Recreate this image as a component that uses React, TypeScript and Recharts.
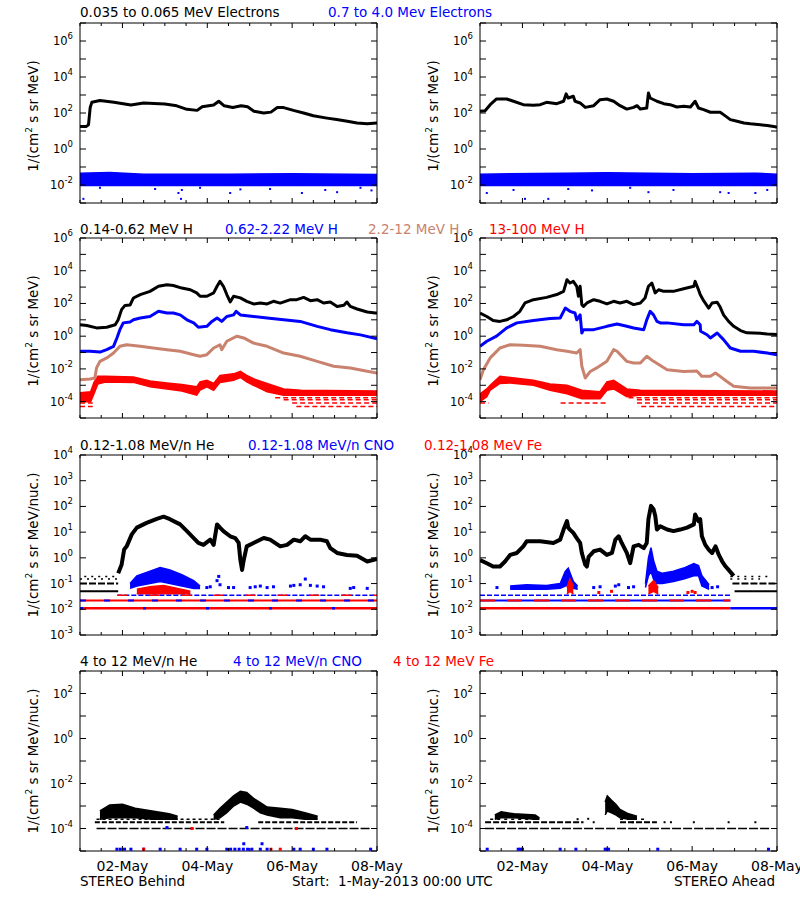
import React from 'react';
import { ComposedChart, Line, Area, Scatter, XAxis, YAxis } from 'recharts';

type Pt = [number, number];
type Bd = [number, number, number];

const FONT = '"DejaVu Sans", Verdana, sans-serif';
const BLACK = '#000000';
const BLUE = '#0000ff';
const RED = '#ff0000';
const BROWN = '#c8826e';

// time axis: days since 1-May-2013 00:00 UTC
const DAY_TICKS = [0, 0.5, 1, 1.5, 2, 2.5, 3, 3.5, 4, 4.5, 5, 5.5, 6, 6.5, 7];
const DATE_TICK_DAYS = [1, 3, 5, 7];
const DATE_LABELS = ['02-May', '04-May', '06-May', '08-May'];

const EXP_ROW1 = [-3, -2, -1, 0, 1, 2, 3, 4, 5, 6, 7];
const LAB_ROW1 = [-2, 0, 2, 4, 6];
const EXP_ROW2 = [-5, -4, -3, -2, -1, 0, 1, 2, 3, 4, 5, 6];
const LAB_ROW2 = [-4, -2, 0, 2, 4, 6];
const EXP_ROW3 = [-3, -2, -1, 0, 1, 2, 3, 4];
const LAB_ROW3 = [-3, -2, -1, 0, 1, 2, 3, 4];
const EXP_ROW4 = [-5, -4, -3, -2, -1, 0, 1, 2, 3];
const LAB_ROW4 = [-4, -2, 0, 2];

// ---------- Row 1: electrons ----------
const B_E_LOW: Pt[] = [[0,18],[0.15,18],[0.2,22],[0.24,200],[0.28,400],[0.47,500],[0.8,400],[1.2,280],[1.5,355],[2.0,316],[2.28,250],[2.52,160],[2.76,140],[2.88,220],[3.15,280],[3.27,450],[3.4,250],[3.6,200],[3.8,250],[3.95,220],[4.1,125],[4.33,100],[4.5,112],[4.65,200],[4.8,200],[5.03,140],[5.27,100],[5.5,70],[5.82,52],[6.05,43],[6.3,35],[6.53,28],[6.77,25],[7,28]];
const B_E_HIGH_BAND: Bd[] = [[0,0.0095,0.045],[0.7,0.0095,0.05],[1.5,0.0095,0.04],[3.5,0.0095,0.04],[5,0.0095,0.042],[7,0.0095,0.038]];
const B_E_HIGH_DOTS: Pt[] = [[0.08,0.0017],[2.32,0.0036],[2.4,0.0053],[3.54,0.0036],[3.78,0.0057],[5.23,0.0036],[6.06,0.004],[5.78,0.0053],[6.87,0.005],[2.38,0.0017],[0.47,0.007],[1.77,0.006],[2.83,0.007],[4.48,0.006],[6.61,0.007]];
const A_E_LOW: Pt[] = [[0,123],[0.12,135],[0.24,290],[0.39,600],[0.63,600],[0.79,450],[1.02,290],[1.26,270],[1.42,290],[1.57,390],[1.81,330],[1.97,450],[2.03,1150],[2.08,680],[2.2,850],[2.24,450],[2.36,360],[2.48,205],[2.68,255],[2.83,550],[2.99,600],[3.15,450],[3.3,255],[3.46,165],[3.62,205],[3.7,255],[3.78,165],[3.93,190],[3.97,1300],[4.01,680],[4.17,450],[4.33,330],[4.48,290],[4.64,215],[4.8,235],[4.96,215],[5.07,450],[5.15,190],[5.27,155],[5.43,110],[5.66,110],[5.74,81],[5.9,43],[6.06,35],[6.22,28],[6.37,25],[6.61,22],[6.77,20],[6.96,17],[7,16]];
const A_E_HIGH_BAND: Bd[] = [[0,0.0095,0.04],[2,0.0095,0.045],[3,0.0095,0.048],[5,0.0095,0.042],[6.5,0.0095,0.045],[7,0.0095,0.04]];
const A_E_HIGH_DOTS: Pt[] = [[0.16,0.0036],[1.06,0.0017],[1.61,0.0017],[0.79,0.0053],[2.08,0.006],[2.64,0.005],[3.97,0.004],[4.56,0.0053],[5.66,0.004],[5.86,0.0036],[6.49,0.0036],[6.77,0.0053],[3.54,0.007]];

// ---------- Row 2: protons ----------
const B_H1: Pt[] = [[0,5],[0.16,4.5],[0.39,3.2],[0.63,3.5],[0.83,5],[0.9,10],[0.98,42],[1.06,76],[1.18,80],[1.22,135],[1.26,215],[1.42,350],[1.65,550],[1.85,1120],[2.05,1400],[2.2,1250],[2.4,870],[2.6,690],[2.75,440],[2.83,275],[2.99,275],[3.15,440],[3.23,1120],[3.3,2240],[3.38,1120],[3.46,350],[3.54,123],[3.62,275],[3.78,220],[3.93,135],[4.09,93],[4.25,105],[4.41,93],[4.56,135],[4.72,105],[4.96,170],[5.11,170],[5.27,235],[5.43,148],[5.59,170],[5.74,107],[5.9,123],[6.06,66],[6.22,77],[6.29,123],[6.37,66],[6.53,46],[6.77,30],[6.96,26],[7,26]];
const B_H2: Pt[] = [[0,0.12],[0.24,0.12],[0.47,0.107],[0.63,0.15],[0.79,0.24],[0.87,0.78],[0.94,2.5],[1.02,6.5],[1.18,7.4],[1.26,10],[1.42,13],[1.65,16],[1.85,33],[2.05,26],[2.2,26],[2.36,20],[2.52,10],[2.68,6.5],[2.79,3.5],[2.99,4],[3.11,8],[3.23,13],[3.34,8],[3.46,16],[3.62,20],[3.68,33],[3.78,20],[4.09,16],[4.41,13],[4.8,10],[5.19,8],[5.59,4],[5.9,2.5],[6.29,1.6],[6.61,1.2],[7,0.7]];
const B_H3: Pt[] = [[0,0.0022],[0.24,0.0024],[0.35,0.0028],[0.39,0.0115],[0.47,0.029],[0.63,0.047],[0.79,0.093],[0.94,0.24],[1.1,0.3],[1.42,0.24],[1.73,0.19],[2.05,0.15],[2.36,0.12],[2.68,0.074],[2.83,0.059],[2.99,0.074],[3.15,0.19],[3.3,0.3],[3.34,0.15],[3.46,0.49],[3.7,1.0],[3.86,0.78],[4.09,0.38],[4.41,0.24],[4.8,0.093],[5.19,0.059],[5.59,0.029],[5.98,0.0145],[6.37,0.0115],[6.77,0.0071],[7,0.0056]];
const B_H4_BAND: Bd[] = [[0,1e-4,3.5e-4],[0.25,1e-4,4e-4],[0.33,3e-4,1.5e-3],[0.42,1.2e-3,3.5e-3],[0.6,1.6e-3,3.5e-3],[1.26,1.5e-3,3.2e-3],[1.65,8e-4,1.8e-3],[2.05,6e-4,1.4e-3],[2.4,4.5e-4,1.1e-3],[2.75,2.5e-4,8e-4],[2.83,5e-4,1.6e-3],[2.99,8e-4,2e-3],[3.15,5e-4,1.3e-3],[3.3,1.5e-3,4e-3],[3.62,2e-3,5e-3],[3.78,3e-3,7e-3],[3.93,1.6e-3,4e-3],[4.09,1e-3,2.5e-3],[4.41,4e-4,1.3e-3],[4.8,2.5e-4,6e-4],[5.2,2.5e-4,5e-4],[7,2.5e-4,4.5e-4]];
const B_H4_FLOORS: Bd[] = [[4.6,7,1.7e-4],[4.8,7,1.3e-4],[5.0,7,8.3e-5],[5.1,7,5.1e-5],[0,0.3,8.3e-5],[0,0.3,5.1e-5]];
const A_H1: Pt[] = [[0,26],[0.16,16],[0.31,9],[0.47,8],[0.63,10],[0.79,16],[0.94,33],[1.06,107],[1.26,170],[1.57,235],[1.81,350],[1.97,550],[2.05,2800],[2.12,1780],[2.2,2240],[2.28,1120],[2.32,275],[2.36,1120],[2.4,85],[2.44,66],[2.52,107],[2.68,170],[2.83,135],[2.99,93],[3.15,135],[3.3,107],[3.46,135],[3.62,85],[3.78,107],[3.89,215],[3.97,1120],[4.05,1780],[4.13,440],[4.21,690],[4.33,550],[4.56,550],[4.8,800],[5.04,1120],[5.07,2240],[5.15,690],[5.19,350],[5.27,148],[5.39,52],[5.47,107],[5.59,120],[5.66,60],[5.74,20],[5.86,8],[5.98,4],[6.14,2.2],[6.29,1.6],[6.61,1.5],[6.77,1.35],[7,1.25]];
const A_H2: Pt[] = [[0,0.24],[0.16,0.49],[0.39,1.0],[0.63,3.2],[0.87,6.5],[1.26,9],[1.65,12],[1.89,13],[2.01,52],[2.12,33],[2.24,26],[2.28,10],[2.36,20],[2.4,1.55],[2.44,2.5],[2.68,2.5],[2.99,4],[3.23,5.5],[3.46,4],[3.62,3.2],[3.86,2.5],[3.93,10],[4.01,33],[4.09,20],[4.17,8],[4.25,6.5],[4.41,6.5],[4.8,5],[5.04,5],[5.11,8],[5.19,5],[5.2,2],[5.35,1.23],[5.43,0.78],[5.59,1.55],[5.74,0.62],[5.9,0.19],[6.14,0.12],[6.45,0.12],[6.77,0.093],[7,0.074]];
const A_H3: Pt[] = [[0,0.0022],[0.08,0.009],[0.24,0.047],[0.47,0.19],[0.71,0.3],[1.02,0.28],[1.42,0.24],[1.81,0.15],[2.05,0.12],[2.28,0.093],[2.36,0.15],[2.4,0.0145],[2.48,0.0028],[2.6,0.007],[2.75,0.0115],[2.99,0.029],[3.15,0.15],[3.23,0.12],[3.46,0.029],[3.62,0.023],[3.78,0.023],[3.93,0.059],[4.09,0.029],[4.41,0.009],[4.8,0.007],[5.11,0.0075],[5.23,0.0035],[5.43,0.0035],[5.55,0.0056],[5.66,0.0035],[5.82,0.0017],[5.98,0.00087],[6.37,0.00068],[7,0.00068]];
const A_H4_BAND: Bd[] = [[0,1e-4,3e-4],[0.16,2e-4,6e-4],[0.24,5e-4,1e-3],[0.47,1.3e-3,3.5e-3],[0.71,1.4e-3,3e-3],[1.26,1e-3,2e-3],[1.65,5e-4,1.2e-3],[2.05,3e-4,1e-3],[2.4,1.5e-4,5e-4],[2.83,1.5e-4,4e-4],[2.99,5e-4,1.6e-3],[3.15,6e-4,2e-3],[3.46,2e-4,6e-4],[3.78,2.5e-4,5e-4],[7,2.5e-4,4.5e-4]];
const A_H4_FLOORS: Bd[] = [[3.5,7,1.7e-4],[3.7,7,1.3e-4],[3.7,7,8.3e-5],[3.8,7,5.1e-5],[1.9,3.0,8.3e-5],[0,0.2,8.3e-5]];

// ---------- Row 3: low-energy heavy ions ----------
const B_HE_L: Pt[] = [[0.9,0.25],[0.98,0.54],[1.04,2.1],[1.1,2.8],[1.22,8.2],[1.34,15],[1.57,23],[1.81,33],[1.97,40],[2.12,32],[2.36,20],[2.52,11],[2.68,5.9],[2.79,3.8],[2.91,3.2],[3.07,5.1],[3.15,3.2],[3.23,20],[3.3,15],[3.38,11],[3.54,6.9],[3.66,5.9],[3.74,3.8],[3.78,0.83],[3.82,0.34],[3.86,0.83],[3.93,2.8],[4.09,3.8],[4.33,5.9],[4.48,5.1],[4.72,2.8],[4.88,3.2],[5.04,5.1],[5.19,4.4],[5.31,6.9],[5.43,5.1],[5.66,5.1],[5.82,4.4],[5.9,2.4],[6.06,1.55],[6.29,1.3],[6.53,1.2],[6.77,0.72],[7,0.9]];
const B_HE_FLOOR_A: Bd[] = [[0,0.9,0.1]];
const B_HE_FLOOR_B: Bd[] = [[0,0.9,0.05]];
const B_HE_FLOOR_C: Bd[] = [[0,0.9,0.15],[0.1,0.85,0.19]];
const B_CNO_BAND: Bd[] = [[1.18,0.065,0.1],[1.34,0.08,0.2],[1.65,0.1,0.3],[1.89,0.12,0.42],[2.12,0.1,0.34],[2.4,0.08,0.22],[2.68,0.065,0.13],[2.83,0.065,0.08]];
const B_CNO_DOTS: Pt[] = [[2.99,0.07],[3.07,0.075],[3.23,0.13],[3.27,0.19],[3.3,0.09],[3.5,0.07],[3.62,0.07],[4.01,0.07],[4.13,0.075],[4.25,0.08],[4.41,0.07],[4.56,0.075],[4.96,0.08],[5.04,0.085],[5.19,0.09],[5.31,0.15],[5.43,0.085],[5.59,0.08],[5.74,0.075],[6.37,0.065],[6.45,0.07],[6.77,0.065]];
const B_FE_BAND: Bd[] = [[1.34,0.04,0.06],[1.65,0.04,0.075],[1.97,0.04,0.085],[2.3,0.04,0.065],[2.6,0.04,0.05]];
const B_CNO_FLOOR_HI: Bd[] = [[0.88,7,0.035]];
const B_CNO_FLOOR_MID: Bd[] = [[0,7,0.022]];
const B_FE_FLOOR_LO: Bd[] = [[0,7,0.011]];
const A_HE_L: Pt[] = [[0,0.83],[0.16,0.62],[0.31,0.46],[0.47,0.46],[0.59,0.72],[0.71,1.3],[0.87,1.55],[1.02,2.8],[1.1,4.4],[1.42,4.4],[1.73,3.8],[1.89,5.1],[1.97,12.6],[2.05,27],[2.08,15],[2.12,12.6],[2.2,9.3],[2.28,5.9],[2.36,3.8],[2.4,1.55],[2.48,0.54],[2.52,0.46],[2.56,1.1],[2.68,1.8],[2.83,2.1],[2.99,1.3],[3.11,1.55],[3.19,5.1],[3.27,6.9],[3.34,3.8],[3.46,1.55],[3.54,0.62],[3.62,2.8],[3.74,3.2],[3.86,2.4],[3.93,3.8],[3.97,32],[4.03,105],[4.09,78],[4.13,43],[4.17,12.6],[4.25,17],[4.41,12.6],[4.56,11],[4.72,12.6],[4.88,15],[5.04,20],[5.07,49],[5.15,27],[5.19,32],[5.23,6.9],[5.31,3.2],[5.39,2.1],[5.47,1.55],[5.55,2.8],[5.63,1.3],[5.71,0.72],[5.79,0.46],[5.86,0.34],[5.98,0.2]];
const A_HE_FLOOR_A: Bd[] = [[5.95,7,0.1]];
const A_HE_FLOOR_B: Bd[] = [[6.0,7,0.05]];
const A_HE_FLOOR_C: Bd[] = [[5.9,6.6,0.15],[5.9,6.8,0.19]];
const A_CNO_BAND1: Bd[] = [[0.71,0.06,0.08],[1.1,0.06,0.09],[1.57,0.06,0.085],[1.89,0.065,0.1],[2.01,0.08,0.3],[2.08,0.09,0.4],[2.2,0.065,0.12],[2.3,0.06,0.08]];
const A_CNO_BAND2: Bd[] = [[3.9,0.07,0.1],[3.97,0.2,1.0],[4.03,0.3,2.5],[4.09,0.15,0.8],[4.17,0.1,0.3],[4.3,0.1,0.25],[4.56,0.12,0.3],[4.8,0.15,0.4],[5.04,0.2,0.6],[5.15,0.2,0.5],[5.23,0.08,0.2],[5.4,0.06,0.09]];
const A_CNO_DOTS: Pt[] = [[2.68,0.07],[2.83,0.075],[3.19,0.08],[3.27,0.09],[3.5,0.07],[3.62,0.075],[5.47,0.07],[5.6,0.075],[0.4,0.07]];
const A_FE_BAND1: Bd[] = [[2.05,0.04,0.07],[2.12,0.05,0.15],[2.2,0.04,0.08]];
const A_FE_BAND2: Bd[] = [[3.97,0.04,0.08],[4.09,0.05,0.13],[4.2,0.04,0.07]];
const A_FE_DOTS: Pt[] = [[4.9,0.045],[5.0,0.05],[5.07,0.045],[3.1,0.05],[2.8,0.045]];
const A_CNO_FLOOR_HI: Bd[] = [[0,5.9,0.035]];
const A_CNO_FLOOR_MID: Bd[] = [[0,5.9,0.022]];
const A_FE_FLOOR_LO: Bd[] = [[0,5.9,0.011]];
const A_CNO_FLOOR_LO: Bd[] = [[5.9,7,0.011]];

// ---------- Row 4: high-energy heavy ions ----------
const B_HE4_BAND1: Bd[] = [[0.47,2.6e-4,6e-4],[0.7,3e-4,1.1e-3],[1.0,3e-4,1.2e-3],[1.3,3e-4,8e-4],[1.7,2.6e-4,6e-4],[2.1,2.6e-4,4.5e-4],[2.3,2.6e-4,3.5e-4]];
const B_HE4_BAND2: Bd[] = [[3.15,2.6e-4,4e-4],[3.3,3e-4,8e-4],[3.46,5e-4,1.5e-3],[3.62,1e-3,2.8e-3],[3.78,1.5e-3,4.5e-3],[3.93,1.2e-3,4e-3],[4.09,8e-4,2.2e-3],[4.25,5e-4,1.4e-3],[4.41,4e-4,9e-4],[4.72,3e-4,8e-4],[5.0,3e-4,7e-4],[5.3,2.6e-4,5e-4],[5.6,2.6e-4,3.5e-4]];
const B_HE4_FLOOR_A: Bd[] = [[0.35,3.4,1.9e-4],[4.2,6.53,1.9e-4]];
const B_HE4_FLOOR_B: Bd[] = [[0.39,3.3,2.6e-4]];
const B_HE4_FLOOR_C: Bd[] = [[0.39,6.85,1e-4]];
const B_CNO4_DOTS: Pt[] = [[0.87,1.2e-5],[0.95,1.2e-5],[1.05,1.2e-5],[1.2,1.2e-5],[1.5,1.2e-5],[1.89,1.2e-5],[2.36,1.2e-5],[2.75,1.2e-5],[2.99,1.2e-5],[3.46,1.2e-5],[3.55,1.2e-5],[3.65,1.2e-5],[3.75,1.2e-5],[3.85,1.2e-5],[3.95,1.2e-5],[4.05,1.2e-5],[4.25,1.2e-5],[4.41,1.2e-5],[5.04,1.2e-5],[5.19,1.2e-5],[5.5,1.2e-5],[5.82,1.2e-5],[6.85,1.2e-5],[3.86,2.1e-5],[4.29,2.1e-5],[2.05,1.1e-4],[3.93,1.1e-4]];
const B_FE4_DOTS: Pt[] = [[1.5,1.2e-5],[4.5,1.2e-5],[4.72,1.2e-5],[2.64,1e-4],[5.1,1e-4]];
const A_HE4_BAND1: Bd[] = [[0.35,2.6e-4,4e-4],[0.5,3e-4,5.5e-4],[0.8,3e-4,4.5e-4],[1.3,2.6e-4,4e-4],[1.4,2.6e-4,3e-4]];
const A_HE4_BAND2: Bd[] = [[2.95,4e-4,1.5e-3],[3.0,6e-4,2.8e-3],[3.1,5e-4,1.8e-3],[3.2,4e-4,1.2e-3],[3.3,3e-4,7e-4],[3.5,2.6e-4,4.5e-4],[3.7,2.6e-4,3.5e-4]];
const A_HE4_FLOOR_A: Bd[] = [[0.12,2.44,1.9e-4],[3.3,4.17,1.9e-4]];
const A_HE4_FLOOR_B: Bd[] = [[0.24,1.34,2.6e-4],[3.3,3.9,2.6e-4]];
const A_HE4_FLOOR_C: Bd[] = [[0.12,6.85,1e-4]];
const A_HE4_DOTS: Pt[] = [[2.68,1.9e-4],[3.6,1.9e-4],[4.35,1.9e-4],[4.5,1.9e-4],[5.04,1.9e-4],[5.86,1.9e-4],[6.49,1.9e-4],[2.3,2.6e-4],[2.55,2.7e-4]];
const A_CNO4_DOTS: Pt[] = [[0.17,1.2e-5],[0.9,1.2e-5],[0.95,1.2e-5],[1.0,1.2e-5],[1.89,1.2e-5],[2.26,1.2e-5],[2.95,1.2e-5],[2.99,1.2e-5],[3.03,1.2e-5],[4.19,1.2e-5],[6.8,1.2e-5]];

// ---------- text ----------
const TITLES_ROW1 = ['0.035 to 0.065 MeV Electrons', '0.7 to 4.0 Mev Electrons'];
const TITLES_ROW2 = ['0.14-0.62 MeV H', '0.62-2.22 MeV H', '2.2-12 MeV H', '13-100 MeV H'];
const TITLES_ROW3 = ['0.12-1.08 MeV/n He', '0.12-1.08 MeV/n CNO', '0.12-1.08 MeV Fe'];
const TITLES_ROW4 = ['4 to 12 MeV/n He', '4 to 12 MeV/n CNO', '4 to 12 MeV Fe'];
const FOOTER = ['STEREO Behind', 'Start:  1-May-2013 00:00 UTC', 'STEREO Ahead'];

// ---------- geometry ----------
const LX = 80;
const RX = 480;
const PW = 297;
const PH = 180;
const ROW_Y = [23, 238, 455, 671];
const EXTRA_R = 40;

const pts = (a: Pt[]) => a.map(([t, v]) => ({ t, v }));
const bnd = (a: Bd[]) => a.map(([t, lo, hi]) => ({ t, v: [lo, hi] }));

const ln = (d: Pt[], color: string, w = 2.5) => (
  <Line data={pts(d)} dataKey="v" type="linear" stroke={color} strokeWidth={w} strokeLinejoin="round" dot={false} activeDot={false} isAnimationActive={false} />
);
const bd = (d: Bd[], color: string) => (
  <Area data={bnd(d)} dataKey="v" type="linear" stroke={color} strokeWidth={1.5} fill={color} fillOpacity={1} dot={false} activeDot={false} isAnimationActive={false} />
);
const sg = (d: Bd[], color: string, w: number, dash?: string) =>
  d.map(([t0, t1, v], i) => (
    <Line key={`${color}${v}${i}${dash}`} data={[{ t: t0, v }, { t: t1, v }]} dataKey="v" type="linear" stroke={color} strokeWidth={w} strokeDasharray={dash} dot={false} activeDot={false} isAnimationActive={false} />
  ));
const dt = (d: Pt[], color: string, s = 2) => (
  <Scatter data={pts(d)} dataKey="v" fill={color} isAnimationActive={false}
    shape={(p: any) => <rect x={p.cx - s / 2} y={p.cy - s / 2} width={s} height={s} fill={color} />} />
);

const BottomTick = (p: any) => {
  const i = DATE_TICK_DAYS.indexOf(p.payload.value);
  const major = i >= 0;
  return (
    <g>
      <line x1={p.x} y1={p.y} x2={p.x} y2={p.y - (major ? 5 : 3)} stroke="#000" />
      {p.dates && major ? (
        <text x={p.x} y={p.y + 20} textAnchor="middle" fontFamily={FONT} fontSize={14} fill="#000">{DATE_LABELS[i]}</text>
      ) : null}
    </g>
  );
};
const TopTick = (p: any) => {
  const major = DATE_TICK_DAYS.indexOf(p.payload.value) >= 0;
  return <line x1={p.x} y1={p.y} x2={p.x} y2={p.y + (major ? 5 : 3)} stroke="#000" />;
};
const LeftTick = (p: any) => {
  const e = Math.round(Math.log10(p.payload.value));
  return (
    <g>
      <line x1={p.x} y1={p.y} x2={p.x + 6} y2={p.y} stroke="#000" />
      {p.labels.indexOf(e) >= 0 ? (
        <text x={p.x - 7} y={p.y + 4} textAnchor="end" fontFamily={FONT} fontSize={11.5} fill="#000">
          10<tspan dy={-6} fontSize={8.5}>{e}</tspan>
        </text>
      ) : null}
    </g>
  );
};
const RightTick = (p: any) => <line x1={p.x} y1={p.y} x2={p.x - 6} y2={p.y} stroke="#000" />;

const Panel = ({ x, y, exps, labels, dates, children }: any) => {
  const ticks = exps.map((e: number) => Math.pow(10, e));
  const domain = [ticks[0], ticks[ticks.length - 1]];
  return (
    <div style={{ position: 'absolute', left: x - 70, top: y - 10 }}>
      <ComposedChart width={PW + 80 + EXTRA_R} height={PH + 40} margin={{ top: 0, right: EXTRA_R, bottom: 0, left: 0 }}>
        <XAxis dataKey="t" type="number" domain={[0, 7]} ticks={DAY_TICKS} interval={0} allowDataOverflow height={30}
          tickSize={0} tickMargin={0} tickLine={false} axisLine={{ stroke: '#000' }}
          tick={(p: any) => <BottomTick {...p} dates={dates} />} />
        <XAxis xAxisId="top" orientation="top" dataKey="t" type="number" domain={[0, 7]} ticks={DAY_TICKS} interval={0} allowDataOverflow height={10}
          tickSize={0} tickMargin={0} tickLine={false} axisLine={{ stroke: '#000' }}
          tick={(p: any) => <TopTick {...p} />} />
        <YAxis type="number" scale="log" domain={domain} ticks={ticks} interval={0} allowDataOverflow width={70}
          tickSize={0} tickMargin={0} tickLine={false} axisLine={{ stroke: '#000' }}
          tick={(p: any) => <LeftTick {...p} labels={labels} />} />
        <YAxis yAxisId="r" orientation="right" type="number" scale="log" domain={domain} ticks={ticks} interval={0} allowDataOverflow width={10}
          tickSize={0} tickMargin={0} tickLine={false} axisLine={{ stroke: '#000' }}
          tick={(p: any) => <RightTick {...p} />} />
        {children}
      </ComposedChart>
    </div>
  );
};

const T = ({ x, y, c = '#000', anchor = 'start', children }: any) => (
  <text x={x} y={y} fill={c} textAnchor={anchor} fontFamily={FONT} fontSize={13.5} style={{ whiteSpace: 'pre' }}>{children}</text>
);

const YTitle = ({ x, cy, nuc }: any) => (
  <text transform={`translate(${x},${cy}) rotate(-90)`} textAnchor="middle" fontFamily={FONT} fontSize={13.5} fill="#000">
    1/(cm<tspan dy={-6} fontSize={9}>2</tspan><tspan dy={6}>{nuc ? ' s sr MeV/nuc.)' : ' s sr MeV)'}</tspan>
  </text>
);

export default function App() {
  return (
    <div style={{ position: 'absolute', left: 0, top: 0, width: 800, height: 900, background: '#fff', overflow: 'hidden' }}>
      {/* Row 1 */}
      <Panel x={LX} y={ROW_Y[0]} exps={EXP_ROW1} labels={LAB_ROW1}>
        {bd(B_E_HIGH_BAND, BLUE)}
        {dt(B_E_HIGH_DOTS, BLUE)}
        {ln(B_E_LOW, BLACK, 3)}
      </Panel>
      <Panel x={RX} y={ROW_Y[0]} exps={EXP_ROW1} labels={LAB_ROW1}>
        {bd(A_E_HIGH_BAND, BLUE)}
        {dt(A_E_HIGH_DOTS, BLUE)}
        {ln(A_E_LOW, BLACK, 3)}
      </Panel>
      {/* Row 2 */}
      <Panel x={LX} y={ROW_Y[1]} exps={EXP_ROW2} labels={LAB_ROW2}>
        {sg(B_H4_FLOORS, RED, 1.5, '5 3')}
        {bd(B_H4_BAND, RED)}
        {ln(B_H3, BROWN, 3)}
        {ln(B_H2, BLUE, 3)}
        {ln(B_H1, BLACK, 3)}
      </Panel>
      <Panel x={RX} y={ROW_Y[1]} exps={EXP_ROW2} labels={LAB_ROW2}>
        {sg(A_H4_FLOORS, RED, 1.5, '5 3')}
        {bd(A_H4_BAND, RED)}
        {ln(A_H3, BROWN, 3)}
        {ln(A_H2, BLUE, 3)}
        {ln(A_H1, BLACK, 3)}
      </Panel>
      {/* Row 3 */}
      <Panel x={LX} y={ROW_Y[2]} exps={EXP_ROW3} labels={LAB_ROW3}>
        {sg(B_FE_FLOOR_LO, RED, 2.5)}
        {sg(B_FE_FLOOR_LO, BLUE, 2.5, '3 60')}
        {sg(B_CNO_FLOOR_MID, RED, 2)}
        {sg(B_CNO_FLOOR_MID, BLUE, 2, '6 18')}
        {sg(B_CNO_FLOOR_HI, BLUE, 1.5, '5 2')}
        {sg(B_CNO_FLOOR_HI, RED, 1.5, '10 22')}
        {sg(B_HE_FLOOR_A, BLACK, 2, '7 2')}
        {sg(B_HE_FLOOR_B, BLACK, 2)}
        {sg(B_HE_FLOOR_C, BLACK, 1.5, '2 5')}
        {bd(B_CNO_BAND, BLUE)}
        {dt(B_CNO_DOTS, BLUE, 3)}
        {bd(B_FE_BAND, RED)}
        {ln(B_HE_L, BLACK, 4)}
      </Panel>
      <Panel x={RX} y={ROW_Y[2]} exps={EXP_ROW3} labels={LAB_ROW3}>
        {sg(A_FE_FLOOR_LO, RED, 2.5)}
        {sg(A_CNO_FLOOR_LO, BLUE, 2.5)}
        {sg(A_CNO_FLOOR_MID, BLUE, 2)}
        {sg(A_CNO_FLOOR_MID, RED, 2, '15 12')}
        {sg(A_CNO_FLOOR_HI, BLUE, 1.5, '5 2')}
        {sg(A_HE_FLOOR_A, BLACK, 2, '7 2')}
        {sg(A_HE_FLOOR_B, BLACK, 2)}
        {sg(A_HE_FLOOR_C, BLACK, 1.5, '2 5')}
        {bd(A_CNO_BAND1, BLUE)}
        {bd(A_CNO_BAND2, BLUE)}
        {dt(A_CNO_DOTS, BLUE, 3)}
        {bd(A_FE_BAND1, RED)}
        {bd(A_FE_BAND2, RED)}
        {dt(A_FE_DOTS, RED, 3)}
        {ln(A_HE_L, BLACK, 4)}
      </Panel>
      {/* Row 4 */}
      <Panel x={LX} y={ROW_Y[3]} exps={EXP_ROW4} labels={LAB_ROW4} dates>
        {sg(B_HE4_FLOOR_C, BLACK, 1.5, '9 2')}
        {sg(B_HE4_FLOOR_A, BLACK, 2, '5 2')}
        {sg(B_HE4_FLOOR_B, BLACK, 1.5, '3 3')}
        {bd(B_HE4_BAND1, BLACK)}
        {bd(B_HE4_BAND2, BLACK)}
        {dt(B_CNO4_DOTS, BLUE, 3)}
        {dt(B_FE4_DOTS, RED, 3)}
      </Panel>
      <Panel x={RX} y={ROW_Y[3]} exps={EXP_ROW4} labels={LAB_ROW4} dates>
        {sg(A_HE4_FLOOR_C, BLACK, 1.5, '9 2')}
        {sg(A_HE4_FLOOR_A, BLACK, 2, '6 2')}
        {sg(A_HE4_FLOOR_B, BLACK, 1.5, '3 4')}
        {bd(A_HE4_BAND1, BLACK)}
        {bd(A_HE4_BAND2, BLACK)}
        {dt(A_HE4_DOTS, BLACK, 2)}
        {dt(A_CNO4_DOTS, BLUE, 3)}
      </Panel>
      <svg width={800} height={900} style={{ position: 'absolute', left: 0, top: 0, pointerEvents: 'none' }}>
        <T x={80} y={17}>{TITLES_ROW1[0]}</T>
        <T x={328} y={17} c={BLUE}>{TITLES_ROW1[1]}</T>
        <T x={80} y={234}>{TITLES_ROW2[0]}</T>
        <T x={225} y={234} c={BLUE}>{TITLES_ROW2[1]}</T>
        <T x={368} y={234} c={BROWN}>{TITLES_ROW2[2]}</T>
        <T x={489} y={234} c={RED}>{TITLES_ROW2[3]}</T>
        <T x={80} y={450}>{TITLES_ROW3[0]}</T>
        <T x={248} y={450} c={BLUE}>{TITLES_ROW3[1]}</T>
        <T x={424} y={450} c={RED}>{TITLES_ROW3[2]}</T>
        <T x={80} y={666}>{TITLES_ROW4[0]}</T>
        <T x={233} y={666} c={BLUE}>{TITLES_ROW4[1]}</T>
        <T x={393} y={666} c={RED}>{TITLES_ROW4[2]}</T>
        <YTitle x={38} cy={ROW_Y[0] + PH / 2 + 3} />
        <YTitle x={438} cy={ROW_Y[0] + PH / 2 + 3} />
        <YTitle x={38} cy={ROW_Y[1] + PH / 2 + 3} />
        <YTitle x={438} cy={ROW_Y[1] + PH / 2 + 3} />
        <YTitle x={38} cy={ROW_Y[2] + PH / 2} nuc />
        <YTitle x={438} cy={ROW_Y[2] + PH / 2} nuc />
        <YTitle x={38} cy={ROW_Y[3] + PH / 2} nuc />
        <YTitle x={438} cy={ROW_Y[3] + PH / 2} nuc />
        <T x={80} y={885.5}>{FOOTER[0]}</T>
        <T x={292} y={885.5}>{FOOTER[1]}</T>
        <T x={775} y={885.5} anchor="end">{FOOTER[2]}</T>
      </svg>
    </div>
  );
}
